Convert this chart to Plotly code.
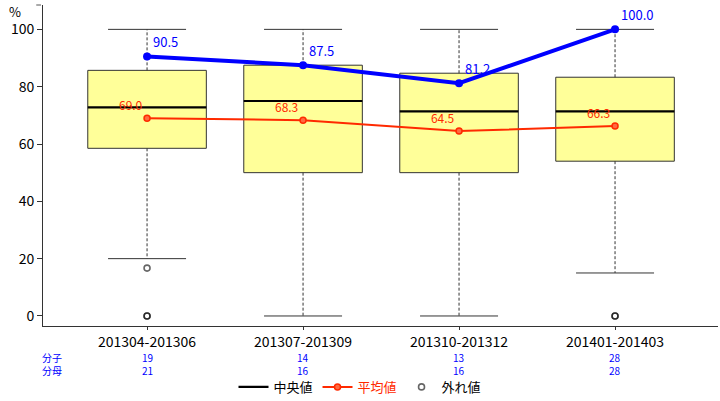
import plotly.graph_objects as go

categories = ["201304-201306", "201307-201309", "201310-201312", "201401-201403"]
q1 = [58.5, 50.0, 50.0, 54.0]
median = [72.8, 75.0, 71.4, 71.4]
q3 = [85.7, 87.5, 84.7, 83.3]
lower_whisker = [20.0, 0.0, 0.0, 15.0]
upper_whisker = [100.0, 100.0, 100.0, 100.0]
outlier_cat = [0, 0, 0, 3, 3]
outlier_val = [16.7, 0.0, 0.0, 0.0, 0.0]
rate_values = [90.5, 87.5, 81.2, 100.0]
mean_values = [69.0, 68.3, 64.5, 66.3]
numerators = [19, 14, 13, 28]
denominators = [21, 16, 16, 28]

FONT = "Noto Sans CJK JP"
xs = list(range(len(categories)))
BOX_HALF = 0.38
CAP_HALF = 0.25

fig = go.Figure()
shapes = []

# boxes
for i in xs:
    shapes.append(dict(type="rect", xref="x", yref="y", x0=i - BOX_HALF, x1=i + BOX_HALF,
                       y0=q1[i], y1=q3[i], fillcolor="#FFFF99",
                       line=dict(color="#333333", width=1), layer="below"))
    shapes.append(dict(type="line", xref="x", yref="y", x0=i - BOX_HALF, x1=i + BOX_HALF,
                       y0=median[i], y1=median[i], line=dict(color="black", width=2.2), layer="below"))

# whiskers
wx, wy, cx, cy = [], [], [], []
for i in xs:
    wx += [i, i, None, i, i, None]
    wy += [q3[i], upper_whisker[i], None, q1[i], lower_whisker[i], None]
    cx += [i - CAP_HALF, i + CAP_HALF, None, i - CAP_HALF, i + CAP_HALF, None]
    cy += [upper_whisker[i], upper_whisker[i], None, lower_whisker[i], lower_whisker[i], None]
fig.add_trace(go.Scatter(x=wx, y=wy, mode="lines", line=dict(color="#333333", width=1, dash="3px,2px"),
                         showlegend=False, hoverinfo="skip"))
fig.add_trace(go.Scatter(x=cx, y=cy, mode="lines", line=dict(color="#333333", width=1),
                         showlegend=False, hoverinfo="skip"))

# legend dummies and outliers
fig.add_trace(go.Scatter(x=[None], y=[None], mode="lines", name="中央値",
                         line=dict(color="black", width=2.2)))
fig.add_trace(go.Scatter(x=xs, y=mean_values, mode="lines+markers+text",
                         name='<span style="color:#FF2A00">平均値</span>',
                         line=dict(color="#FF2A00", width=2),
                         marker=dict(size=6, color="#FF6A40", line=dict(color="#FF2A00", width=1.5)),
                         text=[f"{v:.1f}" for v in mean_values], textposition="top left",
                         textfont=dict(color="#FF2A00", size=12, family=FONT)))
fig.add_trace(go.Scatter(x=outlier_cat, y=outlier_val, mode="markers", name="外れ値",
                         marker=dict(symbol="circle-open", size=6, color="rgba(0,0,0,0.6)",
                                     line=dict(width=1.6))))
fig.add_trace(go.Scatter(x=xs, y=rate_values, mode="lines+markers+text", showlegend=False,
                         line=dict(color="#0000FF", width=4),
                         marker=dict(size=8, color="#0000FF"),
                         text=[f"{v:.1f}" for v in rate_values], textposition="top right",
                         textfont=dict(color="#0000FF", size=13, family=FONT)))

Y_COUNTS = -0.117
annotations = [
    dict(text="分子<br>分母", x=0.013, y=Y_COUNTS, xref="paper", yref="paper", showarrow=False,
         font=dict(color="#0000FF", size=10, family=FONT), xanchor="center", yanchor="middle"),
    dict(text="%", x=-0.041, y=1.017, xref="paper", yref="paper", showarrow=False,
         font=dict(color="black", size=13, family=FONT), xanchor="center", yanchor="top"),
]
for i in xs:
    annotations.append(dict(text=f"{numerators[i]}<br>{denominators[i]}", x=i, y=Y_COUNTS,
                            xref="x", yref="paper", showarrow=False,
                            font=dict(color="#0000FF", size=10, family=FONT), yanchor="middle"))

shapes.append(dict(type="line", xref="paper", yref="paper", x0=-0.01, x1=-0.003, y0=1.0, y1=1.0,
                   line=dict(color="#555555", width=1)))

fig.update_layout(
    width=720, height=401,
    margin=dict(l=43, r=2, t=5, b=75, autoexpand=False),
    paper_bgcolor="white", plot_bgcolor="white",
    font=dict(family=FONT, size=14, color="black"),
    shapes=shapes, annotations=annotations,
    showlegend=True,
    legend=dict(orientation="h", x=0.5, xanchor="center", xref="container",
                y=0.035, yanchor="middle", yref="container",
                font=dict(size=13, family=FONT), itemwidth=30, tracegroupgap=0),
    xaxis=dict(range=[-0.667, 3.66], tickvals=xs, ticktext=categories, showgrid=False,
               zeroline=False, showline=True, linecolor="#333333", linewidth=1, automargin=False,
               ticks="outside", ticklen=3, tickcolor="#333333", tickfont=dict(size=14)),
    yaxis=dict(range=[-3.5, 108.5], tickvals=[0, 20, 40, 60, 80, 100], showgrid=False,
               zeroline=False, showline=True, linecolor="#333333", linewidth=1, automargin=False,
               ticks="outside", ticklen=5, tickcolor="#333333", tickfont=dict(size=14)),
)

fig.write_html("out.html", config={"displayModeBar": False},
               post_script="document.body.style.margin='0';document.body.style.overflow='hidden';")
